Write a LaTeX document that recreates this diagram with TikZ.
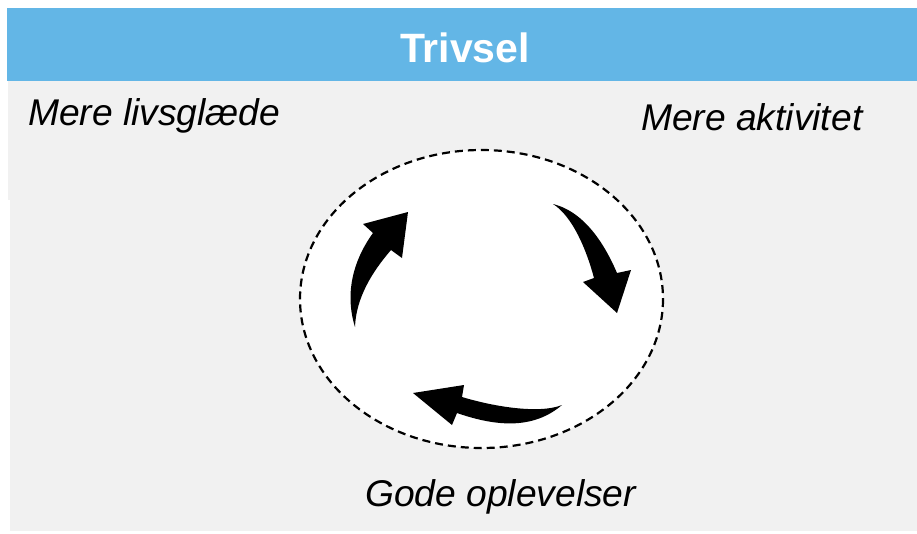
\documentclass[tikz,border=0pt]{standalone}
\usepackage{fontspec}
\setmainfont{Liberation Sans}
\definecolor{barblue}{RGB}{99,182,230}
\definecolor{panelgray}{RGB}{241,241,241}
\tikzset{
  label text/.style={inner sep=0pt, anchor=base west, font=\fontsize{37.2}{41}\selectfont\itshape},
  cycle arrow/.style={fill=black, draw=none}
}
\begin{document}
\begin{tikzpicture}[x=1pt,y=-1pt]
\useasboundingbox (0,0) rectangle (917,533);

% background
\fill[panelgray] (8,80) rectangle (917,200);
\fill[panelgray] (10,200) rectangle (917,531);
\fill[barblue] (7,8) rectangle (917,81);

\node[inner sep=0pt, anchor=base, text=white, font=\fontsize{41}{45}\selectfont\bfseries] (title) at (465,62) {Trivsel};

\node[label text] (glaede) at (28,125) {Mere livsglæde};
\node[label text] (aktiv) at (641,130) {Mere aktivitet};
\node[label text] (gode) at (365,506) {Gode oplevelser};

% circle
\coordinate (c) at (481.5,299);
\filldraw[fill=white, draw=black, line width=2.2pt, dash pattern=on 8pt off 5pt] (c) ellipse [x radius=181.5, y radius=149];

% arrows
\coordinate (a1) at (355,327);
\coordinate (a2) at (408,212);
\coordinate (b1) at (553,204);
\coordinate (b2) at (617,313);
\coordinate (d1) at (562,405);
\coordinate (d2) at (413,393);

\fill[cycle arrow] (a1) .. controls (345,295) and (352,262) .. (373,233)
  -- (363,224) -- (a2) -- (402,258) -- (391,250)
  .. controls (372,272) and (356,298) .. (a1) -- cycle;
\fill[cycle arrow] (b1) .. controls (585,212) and (605,245) .. (617,273)
  -- (631,270) -- (b2) -- (583,282) -- (594,278)
  .. controls (586,248) and (572,216) .. (b1) -- cycle;
\fill[cycle arrow] (d1) .. controls (535,428) and (500,428) .. (457,413)
  -- (452,425) -- (d2) -- (464,385) -- (462,397)
  .. controls (495,407) and (540,414) .. (d1) -- cycle;

\end{tikzpicture}
\end{document}
